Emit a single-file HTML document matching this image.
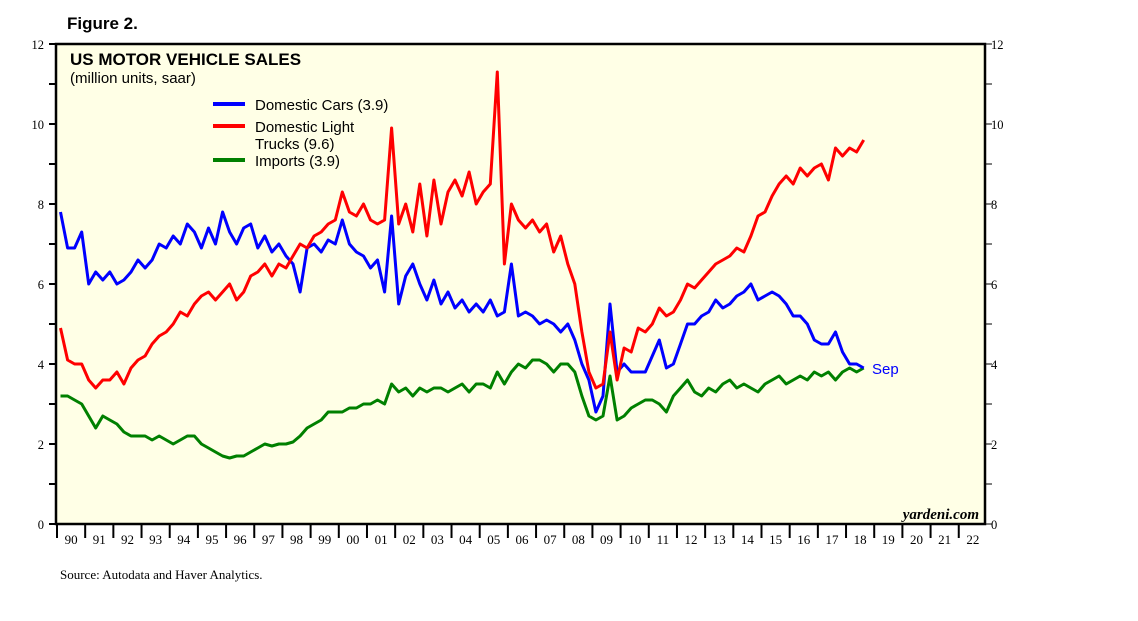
<!DOCTYPE html>
<html><head><meta charset="utf-8">
<style>
body{margin:0;background:#fff;width:1138px;height:621px;overflow:hidden}
svg{display:block}
</style></head><body>
<svg id="chart" width="1138" height="621">
<text x="67" y="29" font-family="Liberation Sans, sans-serif" font-weight="bold" font-size="17">Figure 2.</text>
<rect x="56" y="44" width="929" height="480" fill="#ffffe6" stroke="#000" stroke-width="2.5"/>
<g id="axes"></g>
<g id="series"></g>
<text x="70" y="65" font-family="Liberation Sans, sans-serif" font-weight="bold" font-size="17">US MOTOR VEHICLE SALES</text>
<text x="70" y="83" font-family="Liberation Sans, sans-serif" font-size="15">(million units, saar)</text>
<g font-family="Liberation Sans, sans-serif" font-size="15">
<line x1="213" y1="104" x2="245" y2="104" stroke="#0000ff" stroke-width="4"/>
<text x="255" y="110">Domestic Cars (3.9)</text>
<line x1="213" y1="126" x2="245" y2="126" stroke="#ff0000" stroke-width="4"/>
<text x="255" y="132">Domestic Light</text>
<text x="255" y="149">Trucks (9.6)</text>
<line x1="213" y1="160" x2="245" y2="160" stroke="#008000" stroke-width="4"/>
<text x="255" y="166">Imports (3.9)</text>
</g>
<text x="872" y="374" font-family="Liberation Sans, sans-serif" font-size="15" fill="#0000ff">Sep</text>
<text x="979" y="519" text-anchor="end" font-family="Liberation Serif, serif" font-style="italic" font-weight="bold" font-size="15">yardeni.com</text>
<text x="60" y="579" font-family="Liberation Serif, serif" font-size="13">Source: Autodata and Haver Analytics.</text>
</svg>
<script>
const startYear = 1990;
const yTicks = [0,2,4,6,8,10,12];
const yearLabels = ["90","91","92","93","94","95","96","97","98","99","00","01","02","03","04","05","06","07","08","09","10","11","12","13","14","15","16","17","18","19","20","21","22"];
const cars = [7.8,6.9,6.9,7.3, 6.0,6.3,6.1,6.3, 6.0,6.1,6.3,6.6, 6.4,6.6,7.0,6.9, 7.2,7.0,7.5,7.3, 6.9,7.4,7.0,7.8, 7.3,7.0,7.4,7.5, 6.9,7.2,6.8,7.0, 6.7,6.5,5.8,6.9, 7.0,6.8,7.1,7.0, 7.6,7.0,6.8,6.7, 6.4,6.6,5.8,7.7, 5.5,6.2,6.5,6.0, 5.6,6.1,5.5,5.8, 5.4,5.6,5.3,5.5, 5.3,5.6,5.2,5.3, 6.5,5.2,5.3,5.2, 5.0,5.1,5.0,4.8, 5.0,4.6,4.0,3.6, 2.8,3.2,5.5,3.8, 4.0,3.8,3.8,3.8, 4.2,4.6,3.9,4.0, 4.5,5.0,5.0,5.2, 5.3,5.6,5.4,5.5, 5.7,5.8,6.0,5.6, 5.7,5.8,5.7,5.5, 5.2,5.2,5.0,4.6, 4.5,4.5,4.8,4.3, 4.0,4.0,3.9];
const trucks = [4.9,4.1,4.0,4.0, 3.6,3.4,3.6,3.6, 3.8,3.5,3.9,4.1, 4.2,4.5,4.7,4.8, 5.0,5.3,5.2,5.5, 5.7,5.8,5.6,5.8, 6.0,5.6,5.8,6.2, 6.3,6.5,6.2,6.5, 6.4,6.7,7.0,6.9, 7.2,7.3,7.5,7.6, 8.3,7.8,7.7,8.0, 7.6,7.5,7.6,9.9, 7.5,8.0,7.3,8.5, 7.2,8.6,7.5,8.3, 8.6,8.2,8.8,8.0, 8.3,8.5,11.3,6.5, 8.0,7.6,7.4,7.6, 7.3,7.5,6.8,7.2, 6.5,6.0,4.8,3.8, 3.4,3.5,4.8,3.6, 4.4,4.3,4.9,4.8, 5.0,5.4,5.2,5.3, 5.6,6.0,5.9,6.1, 6.3,6.5,6.6,6.7, 6.9,6.8,7.2,7.7, 7.8,8.2,8.5,8.7, 8.5,8.9,8.7,8.9, 9.0,8.6,9.4,9.2, 9.4,9.3,9.6];
const imports = [3.2,3.2,3.1,3.0, 2.7,2.4,2.7,2.6, 2.5,2.3,2.2,2.2, 2.2,2.1,2.2,2.1, 2.0,2.1,2.2,2.2, 2.0,1.9,1.8,1.7, 1.65,1.7,1.7,1.8, 1.9,2.0,1.95,2.0, 2.0,2.05,2.2,2.4, 2.5,2.6,2.8,2.8, 2.8,2.9,2.9,3.0, 3.0,3.1,3.0,3.5, 3.3,3.4,3.2,3.4, 3.3,3.4,3.4,3.3, 3.4,3.5,3.3,3.5, 3.5,3.4,3.8,3.5, 3.8,4.0,3.9,4.1, 4.1,4.0,3.8,4.0, 4.0,3.8,3.2,2.7, 2.6,2.7,3.7,2.6, 2.7,2.9,3.0,3.1, 3.1,3.0,2.8,3.2, 3.4,3.6,3.3,3.2, 3.4,3.3,3.5,3.6, 3.4,3.5,3.4,3.3, 3.5,3.6,3.7,3.5, 3.6,3.7,3.6,3.8, 3.7,3.8,3.6,3.8, 3.9,3.8,3.9];

const NS="http://www.w3.org/2000/svg";
const X0=57, YW=28.18, Y0=524, YU=40;
function xScale(t){return X0+(t-startYear)*YW;}
function yScale(v){return Y0-v*YU;}
const axes=document.getElementById('axes');
function mk(tag,attrs,parent){const e=document.createElementNS(NS,tag);for(const k in attrs)e.setAttribute(k,attrs[k]);parent.appendChild(e);return e;}
for(let v=0;v<=12;v++){
  const y=yScale(v);
  const l=mk('line',{x1:49,x2:56,y1:y,y2:y,stroke:'#000','stroke-width':2},axes);
  
  
  const r=mk('line',{x1:985,x2:992,y1:y,y2:y,stroke:'#000'},axes);
  
  
}
yTicks.forEach(v=>{
  const y=yScale(v);
  const a=mk('text',{x:44,y:y+5,'text-anchor':'end','font-family':'Liberation Serif, serif','font-size':'12.5'},axes);
  a.textContent=v;
  
  
  const b=mk('text',{x:991,y:y+5,'font-family':'Liberation Serif, serif','font-size':'12.5'},axes);
  b.textContent=v;
  
  
});
yearLabels.forEach((lab,i)=>{
  const x=xScale(startYear+i);
  const t=mk('line',{x1:x,x2:x,y1:524,y2:538,stroke:'#000','stroke-width':2},axes);
  
  
  const s=mk('text',{x:x+YW/2,y:544,'text-anchor':'middle','font-family':'Liberation Serif, serif','font-size':'13'},axes);
  s.textContent=lab;
  
  
});
const sg=document.getElementById('series');
function draw(arr,color,name){
  const pts=arr.map((v,i)=>xScale(startYear+(i+0.5)/4).toFixed(1)+','+yScale(v).toFixed(1)).join(' ');
  const p=mk('polyline',{points:pts,fill:'none',stroke:color,'stroke-width':3,'stroke-linejoin':'round'},sg);
  
  
}
draw(imports,'#008000','imports-line');
draw(cars,'#0000ff','domestic-cars-line');
draw(trucks,'#ff0000','domestic-light-trucks-line');
</script>
</body></html>
